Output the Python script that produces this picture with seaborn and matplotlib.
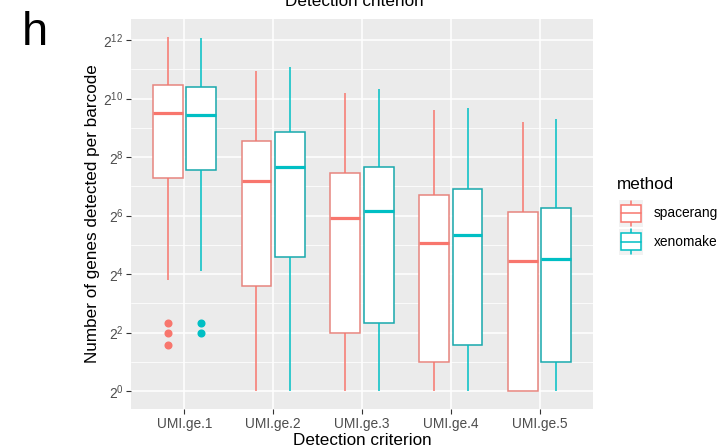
import numpy as np
import pandas as pd
import seaborn as sns
import matplotlib.pyplot as plt
from matplotlib.ticker import LogLocator, FuncFormatter, NullFormatter
from matplotlib.legend_handler import HandlerBase
from matplotlib.patches import Rectangle
from matplotlib.lines import Line2D

criteria = ['UMI.ge.1', 'UMI.ge.2', 'UMI.ge.3', 'UMI.ge.4', 'UMI.ge.5']
methods = ['spacerange', 'xenomake']
colors = ['#F8766D', '#00BFC4']

# genes detected per barcode, box summaries
space_low = [14, 1, 1, 1, 1]
space_q1 = [154, 12, 4, 2, 1]
space_med = [719, 145, 60, 33, 22]
space_q3 = [1409, 375, 174, 104, 69]
space_high = [4420, 1978, 1160, 781, 592]
space_out = [[5, 4, 3], [], [], [], []]

xeno_low = [17, 1, 1, 1, 1]
xeno_q1 = [189, 24, 5, 3, 2]
xeno_med = [690, 204, 72, 40, 23]
xeno_q3 = [1333, 468, 201, 121, 77]
xeno_high = [4270, 2150, 1270, 809, 630]
xeno_out = [[5, 4], [], [], [], []]


def expand(low, q1, med, q3, high, out, k=20):
    # value list whose quartiles and whisker ends match the summary
    return list(out) + [low] + [q1] * k + [med] * k + [q3] * k + [high]


rows = []
summaries = {
    'spacerange': (space_low, space_q1, space_med, space_q3, space_high, space_out),
    'xenomake': (xeno_low, xeno_q1, xeno_med, xeno_q3, xeno_high, xeno_out),
}
for m, (lo, a, md, b, hi, out) in summaries.items():
    for i, crit in enumerate(criteria):
        for v in expand(lo[i], a[i], md[i], b[i], hi[i], out[i]):
            rows.append((crit, m, v))
df = pd.DataFrame(rows, columns=['criterion', 'method', 'genes'])

sns.set_theme(style='darkgrid', rc={
    'axes.facecolor': '#EBEBEB',
    'grid.color': 'white',
    'text.color': 'black',
    'xtick.bottom': True,
    'ytick.left': True,
    'xtick.color': '#333333',
    'ytick.color': '#333333',
    'xtick.labelcolor': '#4D4D4D',
    'ytick.labelcolor': '#4D4D4D',
    'xtick.major.size': 3.5,
    'ytick.major.size': 3.5,
    'xtick.major.width': 0.8,
    'ytick.major.width': 0.8,
    'xtick.major.pad': 2,
    'ytick.major.pad': 2,
    'mathtext.fontset': 'custom',
    'mathtext.rm': 'Liberation Sans',
    'mathtext.it': 'Liberation Sans:italic',
    'mathtext.bf': 'Liberation Sans:bold',
})
plt.rcParams['font.family'] = ['Liberation Sans', 'DejaVu Sans']

fig = plt.figure(figsize=(7.17, 4.48), dpi=100)
ax = fig.add_axes([131 / 717, 1 - 409 / 448, (593 - 131) / 717, (409 - 19) / 448])

sns.boxplot(data=df, x='criterion', y='genes', hue='method', order=criteria,
            hue_order=methods, palette=colors, log_scale=2, width=0.75, gap=0.1,
            whis=1.5, linewidth=1.1, legend=False, ax=ax,
            medianprops=dict(linewidth=2.3),
            capprops=dict(linewidth=0),
            flierprops=dict(marker='o', markersize=4.8))

# ggplot look: white boxes with coloured outlines
for p in ax.patches:
    fc = p.get_facecolor()
    p.set_edgecolor(fc)
    p.set_facecolor('white')
for ln in ax.lines:
    xd = np.asarray(ln.get_xdata(), dtype=float)
    if xd.size == 0:
        continue
    c = colors[0] if xd.mean() - np.round(xd.mean()) < 0 else colors[1]
    ln.set_color(c)
    ln.set_markerfacecolor(c)
    ln.set_markeredgecolor(c)

ax.set_xlim(-0.6, 4.6)
ax.set_ylim(2 ** -0.615, 2 ** 12.72)
ax.yaxis.set_major_locator(LogLocator(base=4))
ax.yaxis.set_minor_locator(LogLocator(base=4, subs=[2.0]))
ax.yaxis.set_major_formatter(FuncFormatter(lambda v, p: f'$2^{{{int(round(np.log2(v)))}}}$'))
ax.yaxis.set_minor_formatter(NullFormatter())
ax.tick_params(which='minor', length=0)
ax.grid(which='major', color='white', linewidth=1.1)
ax.grid(which='minor', axis='y', color='white', linewidth=0.55)
ax.tick_params(axis='both', labelsize=9.9)
for s in ax.spines.values():
    s.set_visible(False)

ax.set_xlabel('Detection criterion', fontsize=12.3, color='black', labelpad=2)
ax.set_ylabel('Number of genes detected per barcode', fontsize=12.3, color='black', labelpad=2)

fig.text(354 / 717, 1 - 6 / 448, 'Detection criterion', fontsize=12.3,
         ha='center', va='baseline')
fig.text(22 / 717, 1 - 45 / 448, 'h', fontsize=34, ha='left', va='baseline')
fig.text(617 / 717, 1 - 189 / 448, 'method', fontsize=12.3, ha='left', va='baseline')


class BoxKey(HandlerBase):
    def create_artists(self, legend, orig_handle, xdescent, ydescent,
                       width, height, fontsize, trans):
        c = orig_handle.get_edgecolor()
        x0, y0 = -xdescent, -ydescent
        bg = Rectangle((x0, y0), width, height, facecolor='#F2F2F2',
                       edgecolor='none', transform=trans)
        cx = x0 + width / 2
        w1 = Line2D([cx, cx], [y0 + 0.03 * height, y0 + 0.18 * height], color=c, lw=1.1, transform=trans)
        w2 = Line2D([cx, cx], [y0 + 0.82 * height, y0 + 0.97 * height], color=c, lw=1.1, transform=trans)
        box = Rectangle((x0 + 0.1 * width, y0 + 0.18 * height), 0.8 * width, 0.64 * height,
                        facecolor='white', edgecolor=c, lw=1.1, transform=trans)
        med = Line2D([x0 + 0.1 * width, x0 + 0.9 * width], [y0 + height / 2] * 2,
                     color=c, lw=1.1, transform=trans)
        return [bg, w1, w2, box, med]


handles = [Rectangle((0, 0), 1, 1, edgecolor=c, facecolor='white') for c in colors]
leg = fig.legend(handles, methods, handler_map={Rectangle: BoxKey()},
                 loc='upper left', bbox_to_anchor=(619 / 717, 1 - 200 / 448),
                 frameon=False, fontsize=9.9,
                 handlelength=1.75, handleheight=2.6,
                 handletextpad=0.75, labelspacing=0.15, borderpad=0, borderaxespad=0,
                 labelcolor='black')

fig.savefig('out.png', dpi=100)
